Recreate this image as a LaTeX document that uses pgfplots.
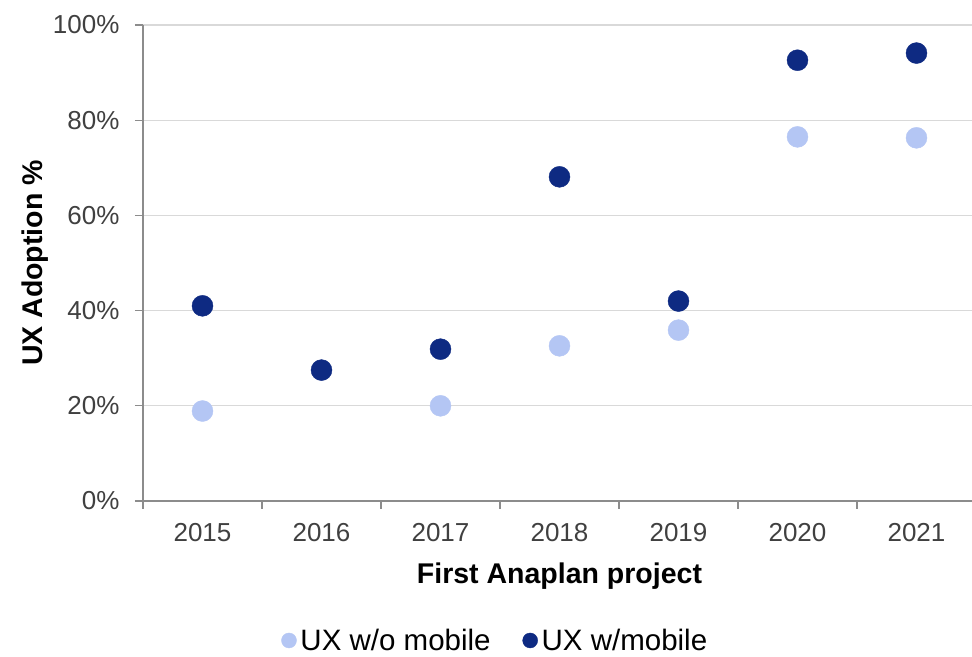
\documentclass[border=0pt]{standalone}
\usepackage{pgfplots}
\pgfplotsset{compat=1.18}
\usepackage{fontspec}
\setmainfont{Liberation Sans}
\definecolor{darkc}{HTML}{0E2A82}
\definecolor{lightc}{HTML}{B4C6F4}
\definecolor{tickc}{HTML}{404040}
\definecolor{axc}{HTML}{8C8C8C}
\definecolor{gridc}{HTML}{D9D9D9}
\begin{document}
\begin{tikzpicture}
\begin{axis}[
  scale only axis,
  width=833bp, height=476bp,
  xmin=-0.5, xmax=6.5,
  ymin=0, ymax=100,
  axis x line=bottom, axis y line=left,
  axis line style={axc, line width=1.2bp, -},
  xtick={0,...,6},
  xticklabels={2015,2016,2017,2018,2019,2020,2021},
  major x tick style={draw=none},
  minor xtick={-0.5,0.5,...,6.5},
  minor x tick style={axc, line width=1.2bp},
  minor tick length=8bp,
  ytick={0,20,...,100},
  major y tick style={axc, line width=1.2bp},
  major tick length=8bp,
  tick align=outside,
  ymajorgrids,
  grid style={gridc, line width=1.2bp},
  yticklabel={\pgfmathprintnumber{\tick}\%},
  /pgf/number format/assume math mode=true,
  tick label style={font=\fontsize{26bp}{30bp}\selectfont, text=tickc},
  xticklabel style={yshift=-11bp},
  yticklabel style={xshift=-12bp},
  xlabel={\textbf{First Anaplan project}},
  ylabel={\textbf{UX Adoption \%}},
  label style={font=\fontsize{28.5bp}{33bp}\selectfont},
  xlabel style={yshift=-14bp},
  ylabel style={yshift=-2bp},
  legend style={at={(0.423,-0.293)}, anchor=center, draw=none,
    font=\fontsize{29.5bp}{33bp}\selectfont, legend columns=2,
    /tikz/every odd column/.append style={column sep=2bp},
    /tikz/every even column/.append style={column sep=30bp}},
  legend image code/.code={\draw[#1, mark size=7.5bp] plot coordinates {(0bp,0bp)};},
  clip=false,
]
\addplot[only marks, mark=*, mark size=10.5bp, draw=lightc, fill=lightc] coordinates {
  (0,18.9) (2,20.0) (3,32.6) (4,35.9) (5,76.5) (6,76.3)};
\addlegendentry{UX w/o mobile}
\addplot[only marks, mark=*, mark size=10.5bp, draw=darkc, fill=darkc] coordinates {
  (0,41.0) (1,27.5) (2,31.9) (3,68.1) (4,42.0) (5,92.6) (6,94.1)};
\addlegendentry{UX w/mobile}
\end{axis}
\pgfresetboundingbox
\useasboundingbox (-143bp,-156bp) rectangle (829bp,501bp);
\end{tikzpicture}
\end{document}
